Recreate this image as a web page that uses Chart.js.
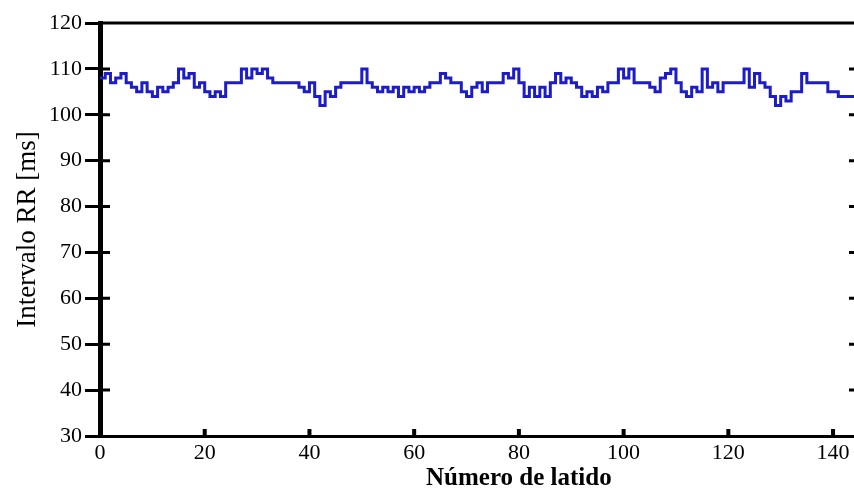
<!DOCTYPE html>
<html>
<head>
<meta charset="utf-8">
<script src="https://cdn.jsdelivr.net/npm/chart.js@4/dist/chart.umd.min.js"></script>
<style>
  html, body { margin: 0; padding: 0; background: #fff; }
  #wrap { width: 854px; height: 491px; position: relative; }
</style>
</head>
<body>
<div id="wrap"><canvas id="rrChart"></canvas></div>
<script>
// RR interval per beat (ms)
const beats = [];
const rrValues = [
  108, 109, 107, 108, 109, 107, 106, 105, 107, 105,
  104, 106, 105, 106, 107, 110, 108, 109, 106, 107,
  105, 104, 105, 104, 107, 107, 107, 110, 108, 110,
  109, 110, 108, 107, 107, 107, 107, 107, 106, 105,
  107, 104, 102, 105, 104, 106, 107, 107, 107, 107,
  110, 107, 106, 105, 106, 105, 106, 104, 106, 105,
  106, 105, 106, 107, 107, 109, 108, 107, 107, 105,
  104, 106, 107, 105, 107, 107, 107, 109, 108, 110,
  107, 104, 106, 104, 106, 104, 107, 109, 107, 108,
  107, 106, 104, 105, 104, 106, 105, 107, 107, 110,
  108, 110, 107, 107, 107, 106, 105, 108, 109, 110,
  107, 105, 104, 106, 105, 110, 106, 107, 105, 107,
  107, 107, 107, 110, 106, 109, 107, 106, 104, 102,
  104, 103, 105, 105, 109, 107, 107, 107, 107, 105,
  105, 104, 104, 104, 104
];
for (let i = 0; i < rrValues.length; i++) beats.push(i);

const xTicks = [0, 20, 40, 60, 80, 100, 120, 140];
const yTicks = [30, 40, 50, 60, 70, 80, 90, 100, 110, 120];
const xTitle = 'Número de latido';

const serif = '"Liberation Serif", "Times New Roman", serif';

// inner tick marks, top frame line and the x title
const frameTicks = {
  id: 'frameTicks',
  afterDraw(chart) {
    const { ctx, chartArea, scales } = chart;
    ctx.save();
    ctx.strokeStyle = '#000';
    ctx.lineWidth = 3;
    ctx.beginPath();
    ctx.moveTo(chartArea.left, chartArea.top);
    ctx.lineTo(chartArea.right, chartArea.top);
    ctx.stroke();
    yTicks.forEach(v => {
      if (v === 30 || v === 120) return;
      const y = scales.y.getPixelForValue(v);
      ctx.beginPath();
      ctx.moveTo(chartArea.left, y);
      ctx.lineTo(chartArea.left + 10, y);
      ctx.moveTo(chartArea.right, y);
      ctx.lineTo(chartArea.right - 5, y);
      ctx.stroke();
    });
    ctx.lineWidth = 4;
    xTicks.forEach(v => {
      if (v === 0) return;
      const x = scales.x.getPixelForValue(v);
      ctx.beginPath();
      ctx.moveTo(x, chartArea.bottom);
      ctx.lineTo(x, chartArea.bottom - 7);
      ctx.stroke();
    });
    ctx.fillStyle = '#000';
    ctx.font = 'bold 25px ' + serif;
    ctx.textAlign = 'center';
    ctx.textBaseline = 'middle';
    ctx.fillText(xTitle, scales.x.getPixelForValue(80), 479);
    ctx.restore();
  }
};

new Chart(document.getElementById('rrChart'), {
  type: 'line',
  data: {
    datasets: [{
      data: beats.map((b, i) => ({ x: b, y: rrValues[i] })),
      borderColor: '#1c1cc8',
      borderWidth: 3,
      pointRadius: 0,
      stepped: true,
      fill: false
    }]
  },
  plugins: [frameTicks],
  options: {
    responsive: true,
    maintainAspectRatio: false,
    animation: false,
    layout: { padding: { top: 23, right: 0, left: 0, bottom: 0 } },
    plugins: { legend: { display: false }, tooltip: { enabled: false } },
    scales: {
      x: {
        type: 'linear',
        min: 0,
        max: 144,
        afterBuildTicks: s => { s.ticks = xTicks.map(v => ({ value: v })); },
        afterFit: s => { s.height = 55; },
        border: { display: true, color: '#000', width: 3 },
        grid: { display: false },
        ticks: { color: '#000', padding: -4, maxRotation: 0, font: { family: serif, size: 22 } },
        title: { display: false }
      },
      y: {
        min: 30,
        max: 120,
        afterBuildTicks: s => { s.ticks = yTicks.map(v => ({ value: v })); },
        afterFit: s => { s.width = 100; },
        border: { display: true, color: '#000', width: 5 },
        grid: { display: true, drawOnChartArea: false, drawTicks: true, tickLength: 15, color: '#000', lineWidth: 3 },
        ticks: { color: '#000', padding: 3, font: { family: serif, size: 22 } },
        title: {
          display: true,
          text: 'Intervalo RR [ms]',
          color: '#000',
          padding: { top: 12, bottom: 0 },
          font: { family: serif, size: 27 }
        }
      }
    }
  }
});
</script>
</body>
</html>
